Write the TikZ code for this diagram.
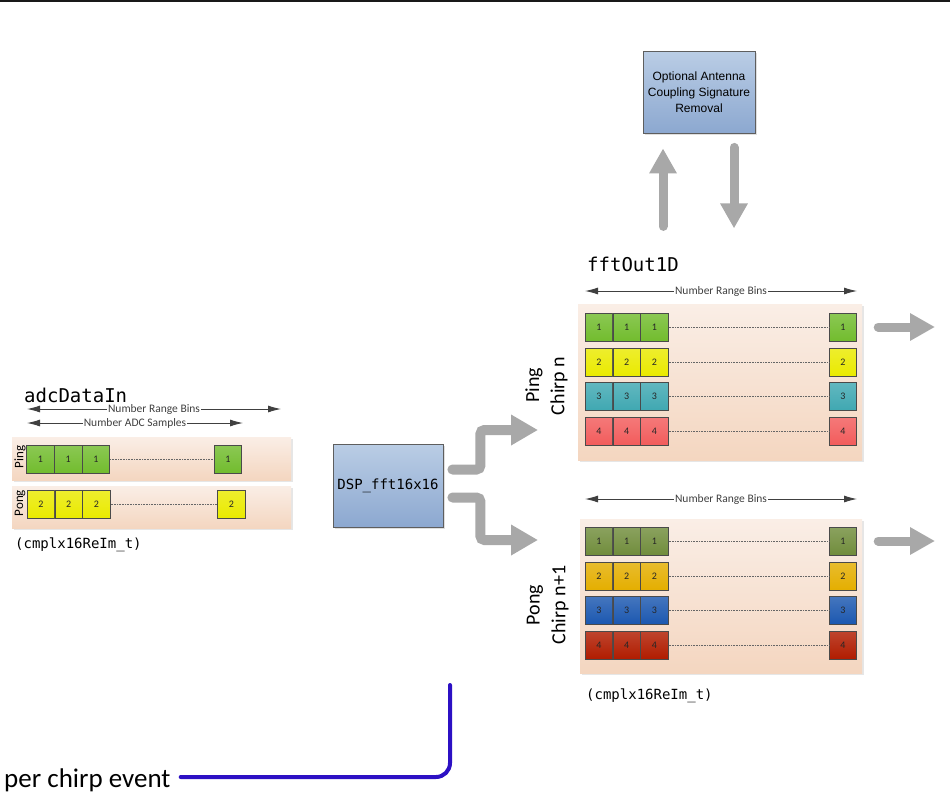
\documentclass[tikz,border=0pt]{standalone}
\usepackage{fontspec}
\setmainfont{Carlito}
\newfontfamily\monofont{DejaVu Sans Mono}
\newfontfamily\arialfont{Liberation Sans}
\usetikzlibrary{arrows.meta,positioning,calc,shadows}

\definecolor{bgtop}{HTML}{FAEEE6}
\definecolor{bgbot}{HTML}{F4D6C0}
\definecolor{boxtop}{HTML}{BACDE5}
\definecolor{boxbot}{HTML}{8CA8D0}
\definecolor{boxline}{HTML}{5E5E5E}
\definecolor{flowgray}{HTML}{A8A8A8}
\definecolor{dimgray}{HTML}{404040}
\definecolor{cellline}{HTML}{4A4A4A}
\definecolor{evtblue}{HTML}{2C10C4}
\definecolor{cgreen}{HTML}{72BC2E}
\definecolor{cyellow}{HTML}{EAEA00}
\definecolor{cteal}{HTML}{40A8B2}
\definecolor{csalmon}{HTML}{F25C5C}
\definecolor{colive}{HTML}{718D3C}
\definecolor{corange}{HTML}{E4AE00}
\definecolor{cblue}{HTML}{1C58B0}
\definecolor{cdred}{HTML}{B01C00}

% one row of range bins: name, y, colour, number, first x, last x
\newcommand{\cellrow}[6]{%
  \foreach \i in {0,1,2}
    \node[cell, top color=#3!82!white, bottom color=#3] (#1-\i) at (#5+27.7*\i, #2) {#4};
  \node[cell, top color=#3!82!white, bottom color=#3] (#1-last) at (#6, #2) {#4};
  \draw[dotline] (#1-2.east) -- (#1-last.west);
}

\begin{document}
\begin{tikzpicture}[x=1pt, y=-1pt,
    cell/.style={draw=cellline, line width=0.8pt, minimum width=27.5pt, minimum height=28pt,
      inner sep=0pt, font=\fontsize{10}{12}\selectfont, text=black!85},
    dotline/.style={densely dotted, draw=black!60, line width=0.6pt},
    rowbg/.style={top color=bgtop, bottom color=bgbot, inner sep=0pt,
      drop shadow={opacity=0.2, shadow xshift=1.5pt, shadow yshift=-1.5pt}},
    procbox/.style={draw=boxline, line width=0.8pt, top color=boxtop, bottom color=boxbot,
      inner sep=2pt, drop shadow={opacity=0.25, shadow xshift=1.5pt, shadow yshift=-1.5pt}},
    dimline/.style={{Latex[length=13pt,width=7pt]}-{Latex[length=13pt,width=7pt]},
      draw=dimgray, line width=0.9pt},
    dimlbl/.style={fill=white, inner sep=0.6pt, text=dimgray, font=\fontsize{11.5}{13}\selectfont},
    flow/.style={-{Triangle[length=27pt,width=29pt]}, draw=flowgray, line width=10pt,
      line cap=round, rounded corners=4pt},
    vflow/.style={-{Triangle[length=25pt,width=26pt]}, draw=flowgray, line width=9pt,
      line cap=round},
    monobig/.style={font=\monofont\fontsize{19}{22}\selectfont},
    monosmall/.style={font=\monofont\fontsize{14}{16}\selectfont},
    biglbl/.style={rotate=90, font=\fontsize{20}{22}\selectfont, inner sep=0pt},
    smalllbl/.style={rotate=90, font=\fontsize{13}{14}\selectfont, inner sep=0pt}]
\useasboundingbox (0,0) rectangle (950,806);
\draw[line width=2pt, black!90] (0,1) -- (950,1);

% input buffer
\node[monobig, anchor=base west, inner sep=0pt] (adcname) at (24,402) {adcDataIn};
\draw[dimline] (27,409) -- node[dimlbl] {Number Range Bins} (281,409);
\draw[dimline] (27,423) -- node[dimlbl] {Number ADC Samples} (243,423);
\node[rowbg, minimum width=279pt, minimum height=43pt] (pingrow) at (151.5,458.5) {};
\node[rowbg, minimum width=279pt, minimum height=42pt] (pongrow) at (151.5,507) {};
\cellrow{pingA}{459}{cgreen}{1}{40.5}{228}
\cellrow{pongA}{504}{cyellow}{2}{41}{231.5}
\node[smalllbl] (pinglbl) at (20,457) {Ping};
\node[smalllbl] (ponglbl) at (20,503) {Pong};
\node[monosmall, anchor=base west, inner sep=0pt] (adctype) at (15,548) {(cmplx16ReIm\_t)};

% fft
\node[procbox, minimum width=110pt, minimum height=83pt, monosmall] (dsp) at (388,485.5) {DSP\_fft16x16};
\coordinate (pingin) at (538,430);
\coordinate (pongin) at (538,540);
\draw[flow] ($(dsp.east)+(9,-16)$) -- ++(28,0) |- (pingin);
\draw[flow] ($(dsp.east)+(9,12)$) -- ++(28,0) |- (pongin);

% output buffer, ping
\node[monobig, anchor=base west, inner sep=0pt] (fftname) at (587,271) {fftOut1D};
\draw[dimline] (585,291) -- node[dimlbl] {Number Range Bins} (857,291);
\node[rowbg, minimum width=284pt, minimum height=156pt] (pingblk) at (720,382) {};
\cellrow{pingB1}{327}{cgreen}{1}{599}{843}
\cellrow{pingB2}{362}{cyellow}{2}{599}{843}
\cellrow{pingB3}{396}{cteal}{3}{599}{843}
\cellrow{pingB4}{431}{csalmon}{4}{599}{843}
\node[biglbl] (pingname) at (534,385) {Ping};
\node[biglbl] (pingchirp) at (559,386) {Chirp n};

% output buffer, pong
\draw[dimline] (585,499) -- node[dimlbl] {Number Range Bins} (857,499);
\node[rowbg, minimum width=282pt, minimum height=154pt] (pongblk) at (721,596) {};
\cellrow{pongB1}{541}{colive}{1}{599}{843}
\cellrow{pongB2}{576}{corange}{2}{599}{843}
\cellrow{pongB3}{610}{cblue}{3}{599}{843}
\cellrow{pongB4}{645}{cdred}{4}{599}{843}
\node[biglbl] (pongname) at (535,605) {Pong};
\node[biglbl] (pongchirp) at (560,605) {Chirp n+1};
\node[monosmall, anchor=base west, inner sep=0pt] (ffttype) at (586,699) {(cmplx16ReIm\_t)};

% outputs
\coordinate (pingout) at (935,327);
\coordinate (pongout) at (935,541);
\draw[vflow] ($(pingblk.east |- pingB1-last)+(16,0)$) -- (pingout);
\draw[vflow] ($(pongblk.east |- pongB1-last)+(16,0)$) -- (pongout);

% antenna coupling removal
\node[procbox, minimum width=112pt, minimum height=82pt, align=center,
  font=\arialfont\fontsize{12}{16}\selectfont] (antbox) at (699,92)
  {Optional Antenna\\Coupling Signature\\Removal};
\draw[vflow] ($(antbox.south)+(-36,93)$) -- ($(antbox.south)+(-36,15)$);
\draw[vflow] ($(antbox.south)+(35,14)$) -- ($(antbox.south)+(35,95)$);

% chirp event
\node[font=\fontsize{27}{30}\selectfont, anchor=west, inner sep=0pt] (evtlbl) at (4,780) {per chirp event};
\coordinate (evttop) at (450,685);
\draw[evtblue, line width=4pt, line cap=round, rounded corners=14pt] (evttop) |- ([xshift=10pt, yshift=3pt]evtlbl.east);
\end{tikzpicture}
\end{document}
